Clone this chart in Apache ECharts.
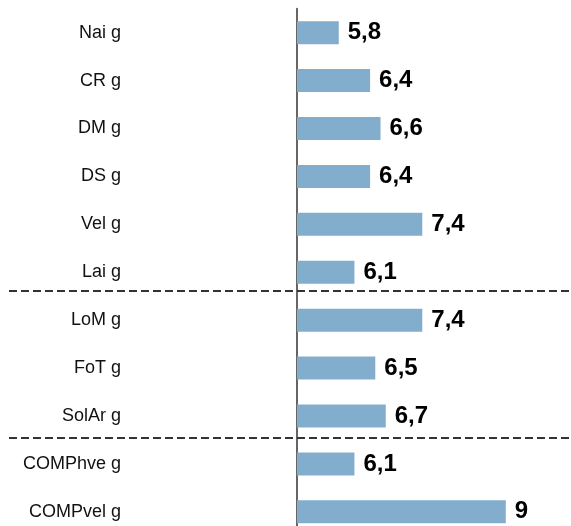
<!DOCTYPE html>
<html>
<head>
<meta charset="utf-8">
<script src="https://cdn.jsdelivr.net/npm/echarts@6/dist/echarts.min.js"></script>
<style>
html,body{margin:0;padding:0;background:#fff;}
#chart{width:571px;height:526px;}
</style>
</head>
<body>
<div id="chart"></div>
<script>
var categories = ['Nai g','CR g','DM g','DS g','Vel g','Lai g','LoM g','FoT g','SolAr g','COMPhve g','COMPvel g'];
var values = [5.8, 6.4, 6.6, 6.4, 7.4, 6.1, 7.4, 6.5, 6.7, 6.1, 9];
// separator positions in category-index units (0 = first category centre)
var separators = [5.39, 8.45];

var chart = echarts.init(document.getElementById('chart'), null, {renderer:'canvas'});
var option = {
  animation: false,
  backgroundColor: '#ffffff',
  grid: {left: 297, right: 13, top: 8.75, height: 527, outerBoundsMode: 'none', containLabel: false},
  xAxis: {
    type: 'value', min: 5, max: 10, show: false
  },
  yAxis: {
    type: 'category', data: categories, inverse: true,
    axisLine: {show: true, lineStyle: {color: '#666666', width: 2}},
    axisTick: {show: false},
    splitLine: {show: false},
    axisLabel: {
      margin: 176, color: '#111111', fontSize: 18,
      fontFamily: 'Liberation Sans, Arial, sans-serif'
    }
  },
  series: [{
    type: 'bar',
    data: values,
    barWidth: 23,
    itemStyle: {color: '#82ADCC'},
    label: {
      show: true, position: 'right', distance: 9,
      color: '#000000', fontSize: 24, fontWeight: 'bold',
      fontFamily: 'Liberation Sans Narrow, Liberation Sans, Arial, sans-serif',
      formatter: function (p) { return String(p.value).replace('.', ','); }
    }
  }]
};
chart.setOption(option);

function yAt(pos) {
  var i0 = Math.floor(pos), i1 = Math.min(i0 + 1, categories.length - 1);
  var y0 = chart.convertToPixel({yAxisIndex: 0}, categories[i0]);
  var y1 = chart.convertToPixel({yAxisIndex: 0}, categories[i1]);
  return y0 + (pos - i0) * (y1 - y0);
}
var graphics = separators.map(function (s) {
  var y = Math.round(yAt(s));
  return {
    type: 'line', z: 100,
    shape: {x1: 9, y1: y, x2: 571, y2: y},
    style: {stroke: '#333333', lineWidth: 2, lineDash: [8, 4]}
  };
});
chart.setOption({graphic: graphics});
</script>
</body>
</html>
